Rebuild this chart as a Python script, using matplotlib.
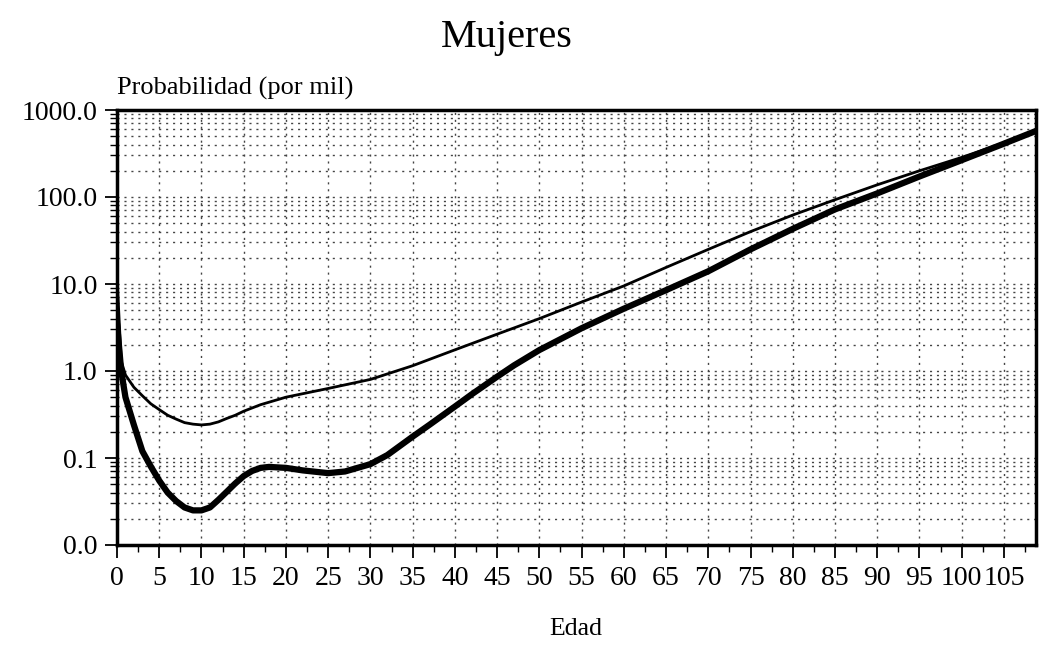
import matplotlib
matplotlib.use("Agg")
import matplotlib.pyplot as plt
from matplotlib.ticker import FixedLocator, NullFormatter, LogLocator

plt.rcParams['font.family'] = ['Liberation Serif', 'DejaVu Serif']

# Data (per thousand)
ages_thin = [0, 0.5, 1, 2, 3, 4, 5, 6, 7, 8, 9, 10, 11, 12, 13, 14, 15, 17, 20,
             25, 30, 35, 40, 45, 50, 55, 60, 65, 70, 75, 80, 85, 90, 95, 100, 105, 109]
prob_thin = [12, 1.3, 0.9, 0.65, 0.52, 0.42, 0.36, 0.31, 0.28, 0.255, 0.245, 0.24,
             0.245, 0.26, 0.285, 0.31, 0.345, 0.41, 0.5, 0.63, 0.8, 1.15, 1.75,
             2.65, 4.0, 6.2, 9.5, 15.5, 25, 40, 62, 93, 138, 200, 285, 420, 595]

ages_thick = [0, 0.5, 1, 2, 3, 4, 5, 6, 7, 8, 9, 10, 11, 12, 13, 14, 15, 16, 17,
              18, 20, 22, 25, 27, 30, 32, 35, 37, 40, 42, 45, 47, 50, 55, 60, 65,
              70, 75, 80, 85, 90, 95, 100, 105, 109]
prob_thick = [3.5, 1.0, 0.5, 0.24, 0.12, 0.08, 0.055, 0.04, 0.032, 0.027, 0.025,
              0.025, 0.027, 0.033, 0.041, 0.051, 0.062, 0.071, 0.077, 0.079, 0.077,
              0.072, 0.067, 0.070, 0.085, 0.108, 0.176, 0.241, 0.39, 0.54, 0.86,
              1.16, 1.74, 3.1, 5.2, 8.5, 14, 25, 43, 72, 110, 172, 265, 410, 585]

x_ticks = list(range(0, 106, 5))
y_ticks = [0.01, 0.1, 1, 10, 100, 1000]
y_labels = ["0.0", "0.1", "1.0", "10.0", "100.0", "1000.0"]

fig = plt.figure(figsize=(10.41, 6.46), dpi=100)
ax = fig.add_axes([117/1041, 1 - 545/646, (1036 - 117)/1041, (545 - 110)/646])

ax.plot(ages_thin, prob_thin, color='black', lw=2.0, solid_capstyle='round',
        solid_joinstyle='round')
ax.plot(ages_thick, prob_thick, color='black', lw=4.5, solid_capstyle='round',
        solid_joinstyle='round')

ax.set_yscale('log')
ax.set_ylim(0.01, 1000)
ax.set_xlim(0, 108.8)

ax.yaxis.set_major_locator(FixedLocator(y_ticks))
ax.set_yticklabels(y_labels)
ax.yaxis.set_minor_locator(LogLocator(base=10, subs=range(2, 10), numticks=20))
ax.yaxis.set_minor_formatter(NullFormatter())

ax.xaxis.set_major_locator(FixedLocator(x_ticks))
ax.set_xticklabels([str(v) for v in x_ticks])
ax.xaxis.set_minor_locator(FixedLocator([v + 2.5 for v in x_ticks]))

ax.grid(which='major', axis='x', color='#444444', linestyle=(0, (1.5, 3.5)), lw=1.0)
ax.grid(which='both', axis='y', color='#444444', linestyle=(0, (1.5, 3.5)), lw=1.0)

for s in ax.spines.values():
    s.set_linewidth(2.5)

ax.tick_params(axis='both', which='major', labelsize=20, direction='out',
               length=9, width=1.3, colors='black')
ax.tick_params(axis='both', which='minor', direction='out', length=5, width=1.0)
ax.tick_params(axis='x', pad=6)
ax.tick_params(axis='y', pad=5)

fig.text(507/1041, 1 - 38/646, "Mujeres", ha='center', va='center', fontsize=29)
fig.text(117/1041, 1 - 88/646, "Probabilidad (por mil)", ha='left', va='center', fontsize=19)
fig.text(576/1041, 1 - 629/646, "Edad", ha='center', va='center', fontsize=18.5)

fig.savefig("out.png", dpi=100, facecolor='white')
